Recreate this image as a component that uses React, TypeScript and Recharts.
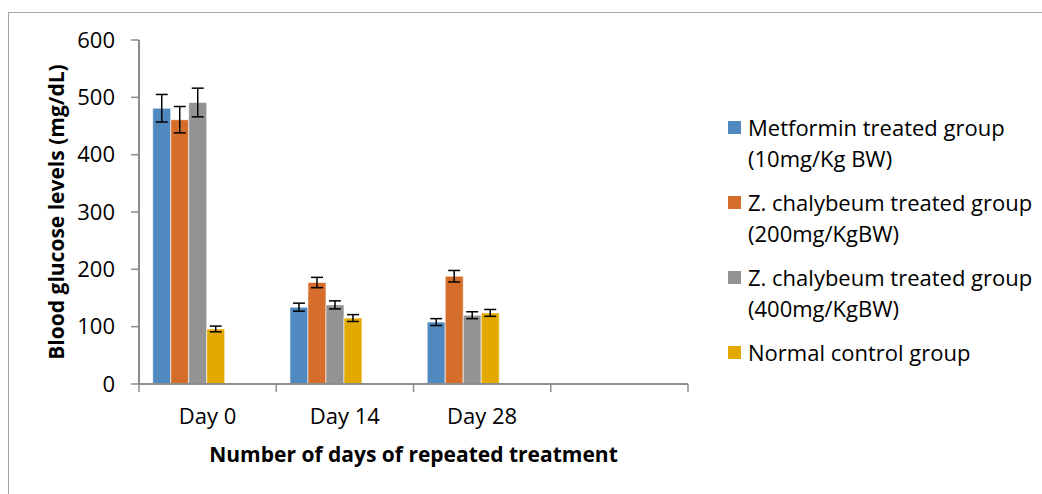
import { BarChart, Bar, XAxis, YAxis, ErrorBar, Label } from "recharts";

const days = ["Day 0", "Day 14", "Day 28", ""];

const seriesNames = [
  "Metformin treated group",
  "Z. chalybeum treated group",
  "Z. chalybeum treated group",
  "Normal control group",
];
const seriesDoses = ["(10mg/Kg BW)", "(200mg/KgBW)", "(400mg/KgBW)", ""];
const seriesColors = ["#4F89BF", "#D56D2B", "#939393", "#E2A900"];

// mean blood glucose (mg/dL) per day
const metformin = [481, 134, 108, null];
const zc200 = [461, 177, 188, null];
const zc400 = [491, 138, 120, null];
const control = [96, 115, 124, null];

// error bar half-lengths
const metforminErr = [24, 7, 6, null];
const zc200Err = [23, 9, 10, null];
const zc400Err = [25, 7, 6, null];
const controlErr = [5, 6, 6, null];

const yTicks = [0, 100, 200, 300, 400, 500, 600];

const data = days.map((day, i) => ({
  day,
  metformin: metformin[i],
  metforminErr: metforminErr[i],
  zc200: zc200[i],
  zc200Err: zc200Err[i],
  zc400: zc400[i],
  zc400Err: zc400Err[i],
  control: control[i],
  controlErr: controlErr[i],
}));

const seriesKeys = ["metformin", "zc200", "zc400", "control"];

const FONT = "'Open Sans', sans-serif";
const AXIS = "#8c8c8c";
const PLOT_LEFT = 139;
const PLOT_RIGHT = 688;
const TICK_SIZE = 8;
const TICK_MARGIN = 16;
const halfBand = (PLOT_RIGHT - PLOT_LEFT) / days.length / 2;

function DayTick(props: any) {
  const { x, y, payload, index } = props;
  const axisY = y - TICK_SIZE - TICK_MARGIN;
  return (
    <g>
      <line x1={x - halfBand} x2={x - halfBand} y1={axisY} y2={axisY + TICK_SIZE} stroke={AXIS} strokeWidth={1.5} />
      {index === days.length - 1 && (
        <line x1={x + halfBand} x2={x + halfBand} y1={axisY} y2={axisY + TICK_SIZE} stroke={AXIS} strokeWidth={1.5} />
      )}
      <text x={x} y={y} dy="0.71em" textAnchor="middle" fill="#000" fontSize={22} fontFamily={FONT}>
        {payload.value}
      </text>
    </g>
  );
}

function Legend() {
  return (
    <div style={{ position: "absolute", left: 728, top: 112, fontFamily: FONT, fontSize: 22, color: "#000" }}>
      {seriesNames.map((name, i) => (
        <div key={i} style={{ display: "flex", alignItems: "flex-start", marginBottom: 13, lineHeight: "31px" }}>
          <div style={{ width: 13, height: 13, background: seriesColors[i], marginTop: 9, marginRight: 7 }} />
          <div style={{ whiteSpace: "nowrap" }}>
            <div>{name}</div>
            {seriesDoses[i] && <div>{seriesDoses[i]}</div>}
          </div>
        </div>
      ))}
    </div>
  );
}

export default function App() {
  return (
    <div style={{ position: "absolute", left: 0, top: 0, width: 1042, height: 494, background: "#fff", overflow: "hidden" }}>
      <div
        style={{
          position: "absolute",
          left: 8,
          top: 12,
          width: 1100,
          height: 600,
          borderLeft: "1px solid #a6a6a6",
          borderTop: "1px solid #a6a6a6",
        }}
      />
      <div style={{ position: "absolute", left: 0, top: 0 }}>
        <BarChart
          width={700}
          height={494}
          data={data}
          margin={{ top: 40, right: 700 - PLOT_RIGHT, left: 0, bottom: 80 }}
          barCategoryGap="10%"
          barGap={0}
        >
          <XAxis
            dataKey="day"
            height={30}
            interval={0}
            tickLine={false}
            tickSize={TICK_SIZE}
            tickMargin={TICK_MARGIN}
            axisLine={{ stroke: AXIS, strokeWidth: 2 }}
            tick={<DayTick />}
          >
            <Label
              value="Number of days of repeated treatment"
              position="bottom"
              offset={33}
              style={{ fontFamily: FONT, fontSize: 21, fontWeight: 700, fill: "#000" }}
            />
          </XAxis>
          <YAxis
            width={PLOT_LEFT}
            domain={[0, 600]}
            ticks={yTicks}
            interval={0}
            tickSize={TICK_SIZE}
            tickMargin={16}
            axisLine={{ stroke: AXIS, strokeWidth: 2 }}
            tickLine={{ stroke: AXIS, strokeWidth: 1.5 }}
            tick={{ fontFamily: FONT, fontSize: 22, fill: "#000" }}
          >
            <Label
              value="Blood glucose levels (mg/dL)"
              angle={-90}
              position="center"
              dx={-13}
              style={{ fontFamily: FONT, fontSize: 21, fontWeight: 700, fill: "#000" }}
            />
          </YAxis>
          {seriesKeys.map((key, i) => (
            <Bar
              key={key}
              dataKey={key}
              fill={seriesColors[i]}
              stroke="rgba(255,255,255,0.6)"
              strokeWidth={1}
              isAnimationActive={false}
            >
              <ErrorBar dataKey={key + "Err"} width={6} stroke="#000" strokeWidth={1.5} />
            </Bar>
          ))}
          {/* two empty slots, as in the original Excel chart */}
          <Bar dataKey="spareA" fill="none" isAnimationActive={false} />
          <Bar dataKey="spareB" fill="none" isAnimationActive={false} />
        </BarChart>
      </div>
      <Legend />
    </div>
  );
}
